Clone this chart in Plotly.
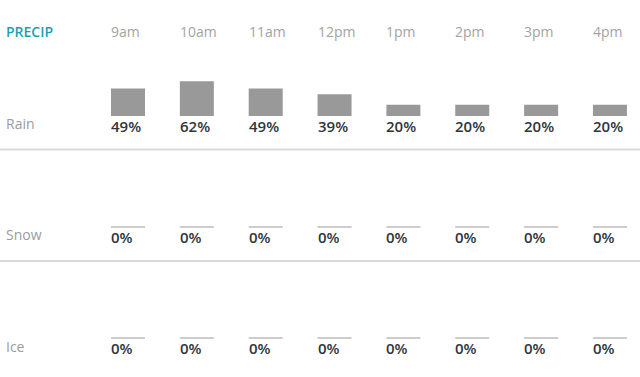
import plotly.graph_objects as go

# ---- data ----
hours = ["9am", "10am", "11am", "12pm", "1pm", "2pm", "3pm", "4pm"]
row_names = ["Rain", "Snow", "Ice"]
rain = [49, 62, 49, 39, 20, 20, 20, 20]
snow = [0, 0, 0, 0, 0, 0, 0, 0]
ice = [0, 0, 0, 0, 0, 0, 0, 0]
series = [rain, snow, ice]

# ---- layout geometry (pixels) ----
W, H = 640, 377
PX = 68.85          # pixels between hour columns
X0 = 128.0          # pixel centre of first column
BW = 34 / PX        # bar width in data units
SCALE = 0.56        # pixels per percent
baselines = [116, 227, 338]
FONT = "Open Sans, Arial, sans-serif"

fig = go.Figure()
axis_names = ["y", "y2", "y3"]
annotations = []
x_idx = list(range(len(hours)))
label_x = (6 - X0) / PX

for k, vals in enumerate(series):
    yname = axis_names[k]
    fig.add_trace(go.Bar(
        x=x_idx, y=vals, width=BW, yaxis=yname,
        marker=dict(color="#999999", line=dict(width=0)),
        hoverinfo="skip",
    ))
    xs, ys = [], []
    for i, v in enumerate(vals):
        if v == 0:
            xs += [i - BW / 2, i + BW / 2, None]
            ys += [0, 0, None]
    if xs:
        fig.add_trace(go.Scatter(
            x=xs, y=ys, mode="lines", yaxis=yname,
            line=dict(color="#9a9a9a", width=1), hoverinfo="skip",
        ))
    for i, v in enumerate(vals):
        annotations.append(dict(
            x=i - BW / 2, y=-9.5 / SCALE, xref="x", yref=yname,
            text=f"{v}%", showarrow=False, xanchor="left", yanchor="middle",
            xshift=-2,
            font=dict(family=FONT, size=15, color="#30353a", weight=600),
        ))
    annotations.append(dict(
        x=label_x, y=1 - (baselines[k] + 8) / H, xref="x", yref="paper",
        xanchor="left", yanchor="middle", showarrow=False, text=row_names[k],
        xshift=-2,
        font=dict(family=FONT, size=14, color="#9b9b9b"),
    ))

for i, h in enumerate(hours):
    annotations.append(dict(
        x=i - BW / 2, y=1 - 31 / H, xref="x", yref="paper",
        xanchor="left", yanchor="middle", showarrow=False, text=h,
        xshift=-2,
        font=dict(family=FONT, size=14, color="#a3a3a3"),
    ))

annotations.append(dict(
    x=label_x, y=1 - 31 / H, xref="x", yref="paper",
    xanchor="left", yanchor="middle", showarrow=False, text="PRECIP",
    xshift=-2,
    font=dict(family=FONT, size=14, color="#1e9fb3", weight=600),
))

shapes = []
for sep in [149.5, 261.0]:
    shapes.append(dict(
        type="line", xref="paper", yref="paper", x0=0, x1=1,
        y0=1 - sep / H, y1=1 - sep / H,
        line=dict(color="#dadada", width=2), layer="below",
    ))

def yr(b):
    hi = b / SCALE
    return [hi - H / SCALE, hi]

hidden = dict(visible=False, showgrid=False, zeroline=False, fixedrange=True)
fig.update_layout(
    width=W, height=H, margin=dict(l=0, r=0, t=0, b=0),
    paper_bgcolor="white", plot_bgcolor="white",
    showlegend=False, barmode="overlay",
    xaxis=dict(range=[-X0 / PX, (W - X0) / PX], **hidden),
    yaxis=dict(range=yr(baselines[0]), **hidden),
    yaxis2=dict(range=yr(baselines[1]), overlaying="y", **hidden),
    yaxis3=dict(range=yr(baselines[2]), overlaying="y", **hidden),
    annotations=annotations, shapes=shapes,
)

fig.write_html("out.html")
